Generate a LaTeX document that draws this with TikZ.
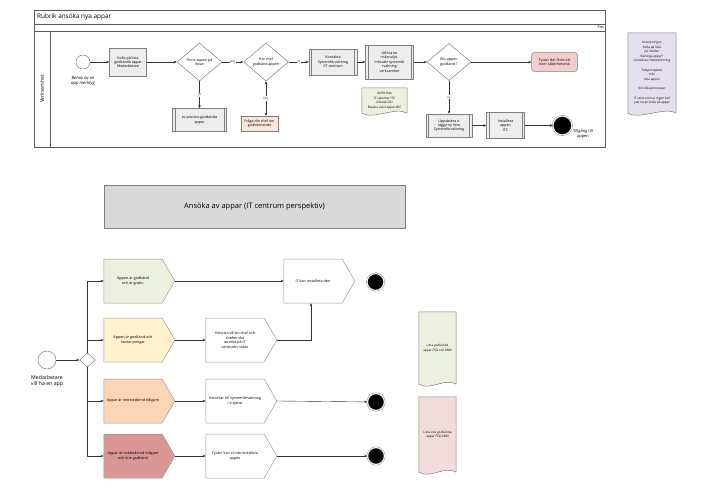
\documentclass[tikz,border=0pt]{standalone}
\usepackage{fontspec}
\setmainfont{Open Sans}
\usetikzlibrary{arrows.meta, positioning, shapes.geometric, shapes.symbols, backgrounds}
\definecolor{lineGray}{HTML}{7F7F7F}
\definecolor{poolGray}{HTML}{595959}
\definecolor{boxGray}{HTML}{EDEDED}
\definecolor{titleGray}{HTML}{D9D9D9}
\definecolor{askPeach}{HTML}{FBE5D6}
\definecolor{riskPink}{HTML}{F4CCCC}
\definecolor{noteGreen}{HTML}{EBF1DE}
\definecolor{noteLilac}{HTML}{E4DFEC}
\definecolor{notePink}{HTML}{F2DCDB}
\definecolor{freeGreen}{HTML}{EBF1DE}
\definecolor{costYellow}{HTML}{FFF2CC}
\definecolor{newOrange}{HTML}{FBD5B5}
\definecolor{noRed}{HTML}{D99694}
\newcommand{\tinytxt}{\fontsize{3.6}{4.4}\selectfont}
\newcommand{\smalltxt}{\fontsize{3.7}{4.6}\selectfont}
\newcommand{\doctxt}{\fontsize{3.1}{4.5}\selectfont}
\tikzset{
  arrowL/.style={-{Stealth[length=3pt, width=2.6pt]}, black!80, line width=0.4pt},
  lbl/.style={font=\fontsize{3.2}{4}\selectfont, fill=white, inner sep=0.6pt},
  taskbox/.style={rectangle, draw=lineGray, fill=boxGray, align=center,
                  font=\tinytxt, inner sep=1pt, line width=0.5pt},
  subproc/.style={taskbox, path picture={
      \draw[lineGray, line width=0.4pt]
        ([xshift=2.5pt]path picture bounding box.north west) -- ([xshift=2.5pt]path picture bounding box.south west)
        ([xshift=-2.5pt]path picture bounding box.north east) -- ([xshift=-2.5pt]path picture bounding box.south east);}},
  gateway/.style={diamond, draw=lineGray, fill=white, align=center,
                  font=\tinytxt, inner sep=0pt, line width=0.5pt},
  startev/.style={circle, draw=lineGray, fill=white, line width=0.5pt},
  endev/.style={circle, draw=black!55, double=white, double distance=0.9pt,
                fill=black, line width=0.35pt},
  stepshape/.style={signal, signal to=east, signal pointer angle=120, draw=black!40,
                    line width=0.5pt, align=center, font=\smalltxt,
                    minimum width=71pt, minimum height=44pt, inner sep=0.5pt},
  docnote/.style={align=center, inner sep=1pt, font=\doctxt},
}

\begin{document}
\begin{tikzpicture}[x=1pt, y=-1pt, line join=round]
  \useasboundingbox (0,0) rectangle (710,495);
  % pool with one lane
  \draw[poolGray, line width=0.6pt] (34,10) rectangle (605,147);
  \draw[poolGray, line width=0.5pt] (34,24) -- (605,24) (34,31) -- (605,31);
  \draw[poolGray, line width=0.5pt] (50,31) -- (50,147);
  \node[anchor=west, inner sep=0pt, font=\fontsize{6.4}{7.5}\selectfont] (rubrik) at (37,17) {Rubrik ansöka nya appar};
  \node[anchor=east, inner sep=0pt, font=\fontsize{4}{5}\selectfont] (fas) at (604,27.5) {Fas};
  \node[rotate=90, font=\fontsize{5}{6}\selectfont] (lane) at (42,89) {Verksamhet};

  % top flow
  \node[startev, minimum size=14pt] (start) at (83,62) {};
  \node[below=3pt of start, align=center, font=\itshape\fontsize{4.3}{5.3}\selectfont] (behov) {Behov av en\\app /verktyg};
  \node[taskbox, right=19pt of start, minimum width=37pt, minimum height=28pt] (kolla) {Kolla på lista\\godkända appar\\Medarbetare};
  \node[gateway, right=30pt of kolla, minimum width=45pt, minimum height=38pt] (finns) {Finns appen på\\listan};
  \node[subproc, below=27pt of finns, minimum width=54pt, minimum height=23pt] (evproc) {ev process godkända\\appar};
  \node[gateway, right=21pt of finns, minimum width=45pt, minimum height=38pt] (harchef) {Har chef\\godkänd appen};
  \node[taskbox, fill=askPeach, minimum width=37pt, minimum height=15pt] (fraga) at (259.5,123.5) {Fråga din chef om\\godkännande};
  \node[subproc, right=20pt of harchef, minimum width=48pt, minimum height=26pt] (kontakta) {Kontakta\\Systemförvaltning\\/IT centrum};
  \node[subproc, right=8pt of kontakta, minimum width=48pt, minimum height=34pt] (utfora) {Utföra en\\riskanalys.\\Infosäk+systemfö\\rvaltning\\verksamhet};
  \node[gateway, right=13pt of utfora, minimum width=44pt, minimum height=37pt] (blir) {Blir appen\\godkänd ?};
  \node[taskbox, fill=riskPink, rounded corners=3pt, right=60pt of blir, minimum width=46pt, minimum height=19pt] (risk) {Tyvärr det finns ett\\stort säkerhetsrisk};
  \node[subproc, below=33pt of blir, minimum width=46pt, minimum height=23pt] (uppd) {Uppdatera o\\lägga ny lista\\Systemförvaltning};
  \node[subproc, right=14pt of uppd, minimum width=38pt, minimum height=26pt] (inst) {Installera\\appen\\ITC};
  \node[endev, right=28pt of inst, minimum size=19pt] (slut) {};
  \node[align=center, font=\fontsize{4}{5}\selectfont] (tillg) at (583,134) {Tillgång till\\appen};
  \node[docnote, minimum width=45pt, minimum height=25pt] (gdpr) at (384.5,100.5) {GDPR Risk\\IT säkerhet ITC\\Infosäk Ok?\\Bevaka avtal appar Ok?};
  \node[docnote, minimum width=48pt, minimum height=80pt] (notes) at (652,73) {Anteckningar:\\Kolla på lista\\på Insidan\\Känsliga appar?\\checklista riskbedömning\\[5pt]Tidsperspektiv\\Info\\lista appen\\[5pt]Vid olika processer\\[5pt]IT centrum har ingen koll\\just nu att kolla på appar};

  \draw[arrowL] (start) -- (kolla);
  \draw[arrowL] (kolla) -- (finns);
  \draw[arrowL] (finns) -- node[lbl] {Nej} (harchef);
  \draw[arrowL] (finns) -- node[lbl] {Ja} (evproc);
  \draw[arrowL] (harchef) -- node[lbl] {Ja} (kontakta);
  \draw[{Stealth[length=3pt, width=2.6pt]}-{Stealth[length=3pt, width=2.6pt]}, black!80, line width=0.4pt]
    (harchef.south) -- node[lbl] {Nej} (harchef.south |- fraga.north);
  \draw[arrowL] (kontakta) -- (utfora);
  \draw[arrowL] (utfora) -- (blir);
  \draw[arrowL] (blir) -- (risk);
  \draw[arrowL] (blir) -- node[lbl] {Ja} (uppd);
  \draw[arrowL] (uppd) -- (inst);
  \draw[arrowL] (inst) -- (slut);

  % IT centrum perspective
  \node[draw=lineGray, fill=titleGray, minimum width=301pt, minimum height=43pt,
        font=\fontsize{7.5}{9}\selectfont] (rubrik2) at (254.5,206.5) {Ansöka av appar (IT centrum perspektiv)};
  \node[startev, minimum size=18pt] (medarb) at (47,360) {};
  \node[below=5pt of medarb, inner sep=1pt, align=center, font=\fontsize{5.2}{6.4}\selectfont] (medtxt) {Medarbetare\\vill ha en app};
  \node[gateway, right=23pt of medarb, minimum width=16pt, minimum height=14pt] (gw) {};

  \node[stepshape, fill=freeGreen] (gratis) at (133,281) {Appen är godkänd\\och är gratis.};
  \node[stepshape, fill=costYellow] (kostar) at (133,340) {Appen är godkänd och\\kostar pengar};
  \node[stepshape, fill=newOrange] (ejbedomd) at (133,401) {Appar är inte bedömd tidigare};
  \node[stepshape, fill=noRed] (ejgodk) at (133,456) {Appar är riskbedömd tidigare\\och inte godkänd};

  \node[stepshape, fill=white] (itkan) at (313,281) {IT kan installera den};
  \node[stepshape, fill=white] (hanvisa) at (235,340) {Hänvisa till sin chef och\\chefen ska\\ansöka på IT\\centrums sidan};
  \node[stepshape, fill=white] (etjanst) at (235,401) {Hänvisar till Systemförvaltning\\/ e-tjänst};
  \node[stepshape, fill=white] (tyvarr) at (235,456) {Tyvärr kan vi inte installera\\appen};

  \node[endev, minimum size=17pt] (slut1) at (375.5,282) {};
  \node[endev, minimum size=17pt] (slut2) at (376,402) {};
  \node[endev, minimum size=17pt] (slut3) at (376,456) {};

  \node[docnote, minimum width=37pt, minimum height=72pt] (listok) at (437.5,348) {Lista godkända\\appar FSG och ABM};
  \node[docnote, minimum width=37pt, minimum height=75pt] (listno) at (437.5,434.5) {Lista icke godkända\\appar FSG ABM};

  \draw[arrowL] (medarb) -- (gw);
  \draw[arrowL] (gw.north) |- (gratis.west);
  \draw[arrowL] (gw.north) |- (kostar.west);
  \draw[arrowL] (gw.south) |- (ejbedomd.west);
  \draw[arrowL] (gw.south) |- (ejgodk.west);
  \draw[arrowL] (gratis.east) -- (itkan.west);
  \draw[arrowL] (kostar.east) -- (hanvisa.west);
  \draw[arrowL] (hanvisa.east) -| ([xshift=-2pt]itkan.south);
  \draw[arrowL] (ejbedomd.east) -- (etjanst.west);
  \draw[arrowL] (etjanst.east) -- (slut2);
  \draw[arrowL] (ejgodk.east) -- (tyvarr.west);
  \draw[arrowL] (tyvarr.east) -- (slut3);

  % document outlines with wavy bottom
  \begin{scope}[on background layer]
    \foreach \d/\c in {gdpr/noteGreen, notes/noteLilac, listok/noteGreen, listno/notePink}
      \draw[lineGray, fill=\c, line width=0.5pt] (\d.south west) -- (\d.north west) -- (\d.north east)
        -- (\d.south east) .. controls +(-12,-7) and +(12,7) .. (\d.south west) -- cycle;
  \end{scope}
\end{tikzpicture}
\end{document}
